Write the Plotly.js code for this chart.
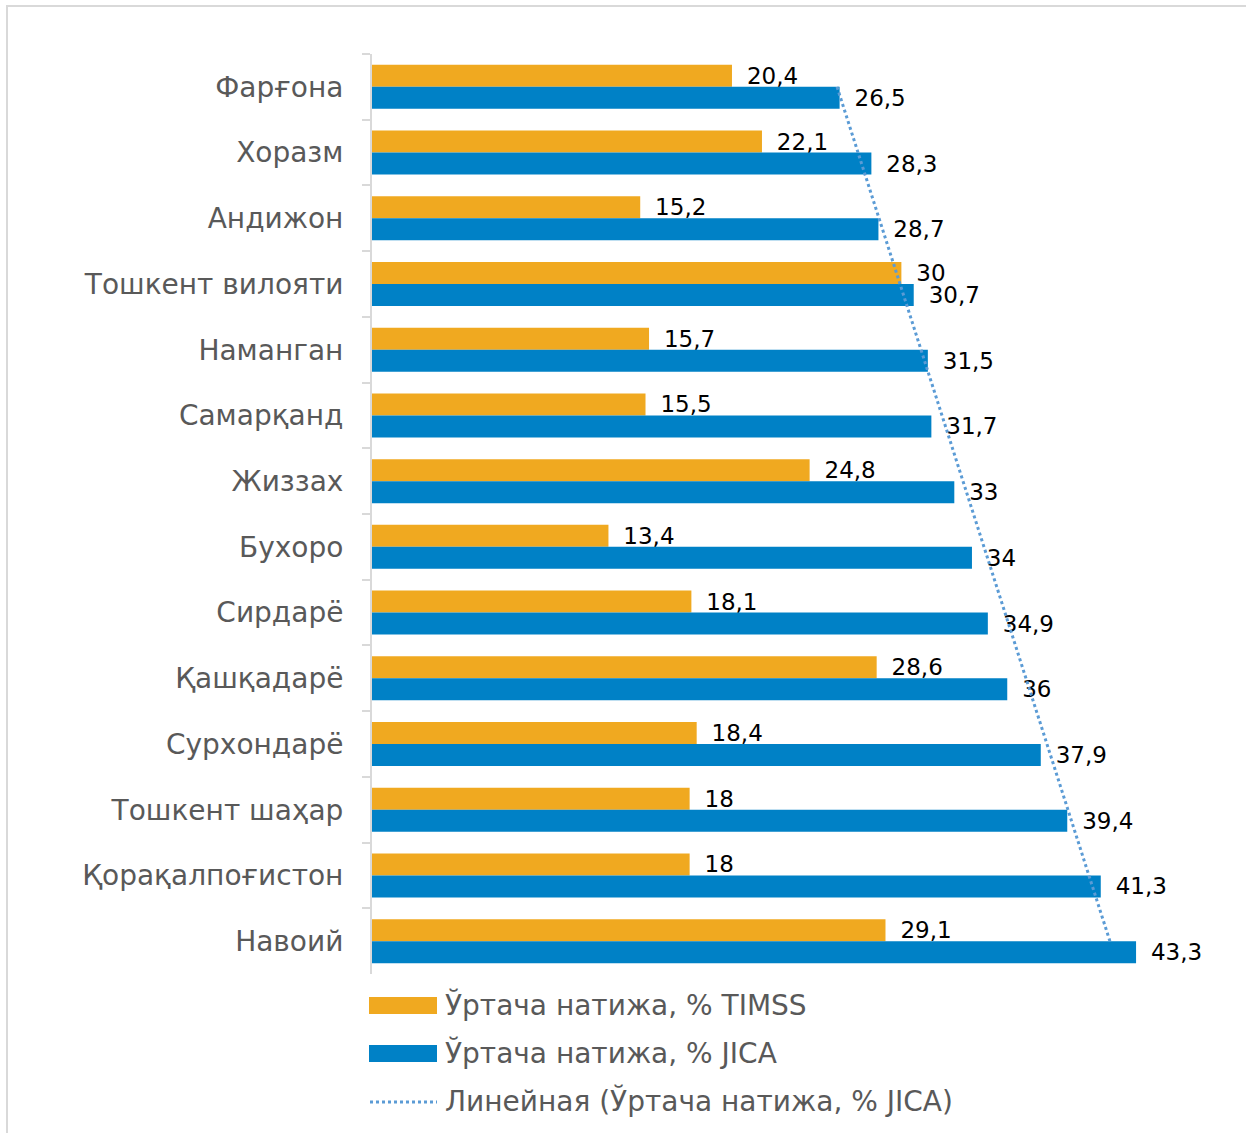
<!DOCTYPE html>
<html><head><meta charset="utf-8">
<script src="https://cdn.plot.ly/plotly-3.0.1.min.js"></script>
<style>
html,body{margin:0;padding:0;background:#fff;}
#wrap{position:relative;width:1246px;height:1133px;}
#frame{position:absolute;left:6px;top:5px;width:1240px;height:1128px;border-top:2px solid #d9d9d9;border-left:2px solid #d9d9d9;box-sizing:border-box;pointer-events:none;z-index:5;}
#chart{position:absolute;left:0;top:0;width:1246px;height:1133px;}
</style></head>
<body><div id="wrap"><div id="chart"></div><div id="frame"></div></div>
<script>
const categories = ["Фарғона","Хоразм","Андижон","Тошкент вилояти","Наманган","Самарқанд","Жиззах","Бухоро","Сирдарё","Қашқадарё","Сурхондарё","Тошкент шаҳар","Қорақалпоғистон","Навоий"];
const timss = [20.4,22.1,15.2,30,15.7,15.5,24.8,13.4,18.1,28.6,18.4,18,18,29.1];
const jica = [26.5,28.3,28.7,30.7,31.5,31.7,33,34,34.9,36,37.9,39.4,41.3,43.3];
const seriesNames = ["Ўртача натижа, % TIMSS","Ўртача натижа, % JICA","Линейная (Ўртача натижа, % JICA)"];

// linear trendline over category index (as Excel does)
const n = jica.length;
const idx = jica.map((_, i) => i + 1);
const mx = idx.reduce((a, b) => a + b, 0) / n;
const my = jica.reduce((a, b) => a + b, 0) / n;
let sxy = 0, sxx = 0;
for (let i = 0; i < n; i++) { sxy += (idx[i] - mx) * (jica[i] - my); sxx += (idx[i] - mx) ** 2; }
const slope = sxy / sxx, icpt = my - slope * mx;
const trend = idx.map(i => icpt + slope * i);

const fmt = v => "\u00a0\u2009" + String(v).replace(".", ",");
const ORANGE = "#F0A920", BLUE = "#0081C6", TREND = "#5B9BD5";
const FONT = "DejaVu Sans, sans-serif";

const traces = [
  {type:"bar", orientation:"h", name:seriesNames[0], y:categories, x:timss,
   marker:{color:ORANGE}, text:timss.map(fmt), textposition:"outside", cliponaxis:false,
   constraintext:"none", textfont:{family:FONT,size:23,color:"#000"}, showlegend:false, hoverinfo:"x"},
  {type:"bar", orientation:"h", name:seriesNames[1], y:categories, x:jica,
   marker:{color:BLUE}, text:jica.map(fmt), textposition:"outside", cliponaxis:false,
   constraintext:"none", textfont:{family:FONT,size:23,color:"#000"}, showlegend:false, hoverinfo:"x"},
  {type:"scatter", mode:"lines", name:seriesNames[2], y:categories, x:trend,
   line:{color:TREND, width:3, dash:"dot"}, showlegend:false, hoverinfo:"x"}
];

const W = 1246, H = 1133, L = 372, R = 27, T = 54, B = 159;
const pw = W - L - R, ph = H - T - B;
const px = x => (x - L) / pw;
const py = y => (H - B - y) / ph;

const shapes = [
  {type:"rect", xref:"paper", yref:"paper", x0:px(369), x1:px(437), y0:py(1014), y1:py(997), fillcolor:ORANGE, line:{width:0}},
  {type:"rect", xref:"paper", yref:"paper", x0:px(369), x1:px(437), y0:py(1062), y1:py(1045), fillcolor:BLUE, line:{width:0}},
  {type:"line", xref:"paper", yref:"paper", x0:px(370), x1:px(437), y0:py(1102), y1:py(1102), line:{color:TREND, width:3, dash:"dot"}}
];
const legY = [1005, 1053, 1101];
const annotations = seriesNames.map((s, i) => ({
  xref:"paper", yref:"paper", x:px(443), y:py(legY[i]), xanchor:"left", yanchor:"middle",
  text:s, showarrow:false, font:{family:FONT, size:28, color:"#595959"}
}));

const layout = {
  width:W, height:H,
  margin:{l:L, r:R, t:T, b:B, pad:0},
  paper_bgcolor:"#fff", plot_bgcolor:"#fff",
  barmode:"group", bargap:0.33, bargroupgap:0,
  showlegend:false,
  xaxis:{range:[0,48], showgrid:false, zeroline:false, showline:false, showticklabels:false, ticks:""},
  yaxis:{type:"category", range:[categories.length - 0.5, -0.5], autorange:false, showgrid:false, zeroline:false,
         showline:true, linecolor:"#d9d9d9", linewidth:2,
         ticks:"outside", tickson:"boundaries", ticklen:8, tickcolor:"#d9d9d9", tickwidth:2,
         ticklabelstandoff:21,
         tickfont:{family:FONT, size:28, color:"#595959"}},
  shapes:shapes, annotations:annotations
};
Plotly.newPlot("chart", traces, layout, {staticPlot:true, displayModeBar:false});
</script></body></html>
